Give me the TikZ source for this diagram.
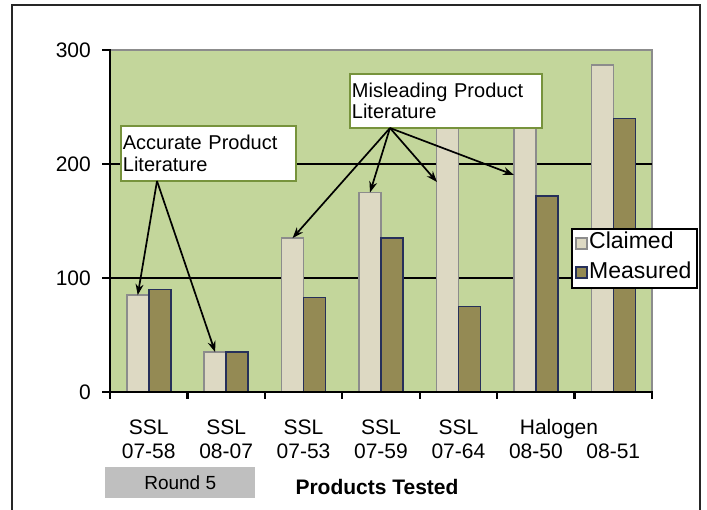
\documentclass[tikz,border=0pt]{standalone}
\usepackage{fontspec}
\setmainfont{Liberation Sans}
\usetikzlibrary{arrows.meta}
\definecolor{plotbg}{HTML}{C3D69B}
\definecolor{claimfill}{HTML}{DDD9C3}
\definecolor{claimedge}{HTML}{8C8C8C}
\definecolor{measfill}{HTML}{948A54}
\definecolor{measedge}{HTML}{26305A}
\definecolor{boxedge}{HTML}{77933C}
\definecolor{roundfill}{HTML}{BFBFBF}
\begin{document}
\begin{tikzpicture}[x=1pt,y=-1pt,
  claimbar/.style={fill=claimfill, draw=claimedge, line width=1.6pt},
  measbar/.style={fill=measfill, draw=measedge, line width=1.6pt},
  callout/.style={draw=boxedge, line width=1.8pt, fill=white, anchor=north west,
    align=left, inner xsep=2pt, inner ysep=0pt, font=\fontsize{20}{21.5}\selectfont},
  pointer/.style={-{Stealth[length=11pt,width=8pt]}, line width=1.7pt},
  axislabel/.style={font=\fontsize{21}{24}\selectfont, inner sep=0pt},
  legendtext/.style={font=\fontsize{23}{24}\selectfont, inner sep=0pt, anchor=base west},
  axisline/.style={line width=2.2pt, line cap=rect},
  gridline/.style={line width=2pt},
]
\useasboundingbox (0,0) rectangle (707,509);

% outer frame (open at the bottom)
\draw[line width=2.2pt, draw=black!85] (12,520) -- (12,5) -- (700,5) -- (700,520);

% plot area
\fill[plotbg] (110,50) rectangle (652,392);
\draw[claimedge, line width=1.2pt] (110,50) -- (652,50) -- (652,392);

% gridlines at 100 and 200
\draw[gridline] (110,164) -- (652,164);
\draw[gridline] (110,278) -- (652,278);

% bars: index / claimed / measured
\foreach \k/\c/\m in {0/85/90, 1/35/35, 2/135/83, 3/175/135, 4/250/75, 5/250/172, 6/287/240}{
  \pgfmathsetmacro\cx{110+77.43*(\k+0.5)}
  \pgfmathsetmacro\ct{392-1.14*\c}
  \pgfmathsetmacro\mt{392-1.14*\m}
  \draw[claimbar] (\cx-22,392) rectangle (\cx,\ct);
  \draw[measbar] (\cx,392) rectangle (\cx+22,\mt);
  \coordinate (ctop\k) at (\cx-11,\ct);
}

% axes and ticks
\draw[axisline] (110,50) -- (110,392);
\draw[axisline] (103,392) -- (652,392);
\foreach \yy in {50,164,278}{
  \draw[axisline] (103,\yy) -- (110,\yy);
}
\foreach \k in {0,...,7}{
  \draw[axisline] (110+77.43*\k,392) -- (110+77.43*\k,398);
}

% y tick labels
\node[axislabel, anchor=east] (y300) at (91,50) {300};
\node[axislabel, anchor=east] (y200) at (91,164) {200};
\node[axislabel, anchor=east] (y100) at (91,278) {100};
\node[axislabel, anchor=east] (y0) at (91,392) {0};

% category labels
\foreach \k/\top/\bot in {0/SSL/07-58, 1/SSL/08-07, 2/SSL/07-53, 3/SSL/07-59, 4/SSL/07-64}{
  \node[axislabel, anchor=base] (kind\k) at (110+77.43*\k+38.7,434) {\top};
  \node[axislabel, anchor=base] (code\k) at (110+77.43*\k+38.7,458) {\bot};
}
\node[axislabel, anchor=base] (kind5) at (559,434) {Halogen};
\node[axislabel, anchor=base] (code5) at (110+77.43*5+38.7,458) {08-50};
\node[axislabel, anchor=base] (code6) at (110+77.43*6+38.7,458) {08-51};

% round marker and axis title
\node[fill=roundfill, minimum width=150pt, minimum height=31pt, anchor=north west,
  inner sep=0pt, font=\fontsize{19}{21}\selectfont] (round) at (105,467) {Round 5};
\node[axislabel, anchor=base, font=\fontsize{21}{24}\selectfont\bfseries] (xtitle) at (377,494) {Products Tested};

% legend
\draw[fill=white, line width=1.8pt] (572,229) rectangle (697,288);
\draw[fill=claimfill, draw=claimedge, line width=1.2pt] (576,238) rectangle (587,249);
\draw[fill=measfill, draw=measedge, line width=1.2pt] (576,267) rectangle (587,278);
\node[legendtext] (legclaim) at (589,248) {Claimed};
\node[legendtext] (legmeas) at (589,278) {Measured};

% callout boxes
\node[callout, text width=171pt, minimum height=55pt] (acc) at (120,125)
  {Accurate Product\\Literature};
\node[callout, text width=188pt, minimum height=54pt] (mis) at (349,73)
  {Misleading Product\\Literature};

% callout pointers
\coordinate (accsrc) at (157,181);
\coordinate (missrc) at (390,128);
\coordinate (side4) at (437,182);
\coordinate (side5) at (514,175);
\draw[pointer] (accsrc) -- (ctop0);
\draw[pointer] (accsrc) -- (ctop1);
\draw[pointer] (missrc) -- (ctop2);
\draw[pointer] (missrc) -- (ctop3);
\draw[pointer] (missrc) -- (side4);
\draw[pointer] (missrc) -- (side5);
\end{tikzpicture}
\end{document}
